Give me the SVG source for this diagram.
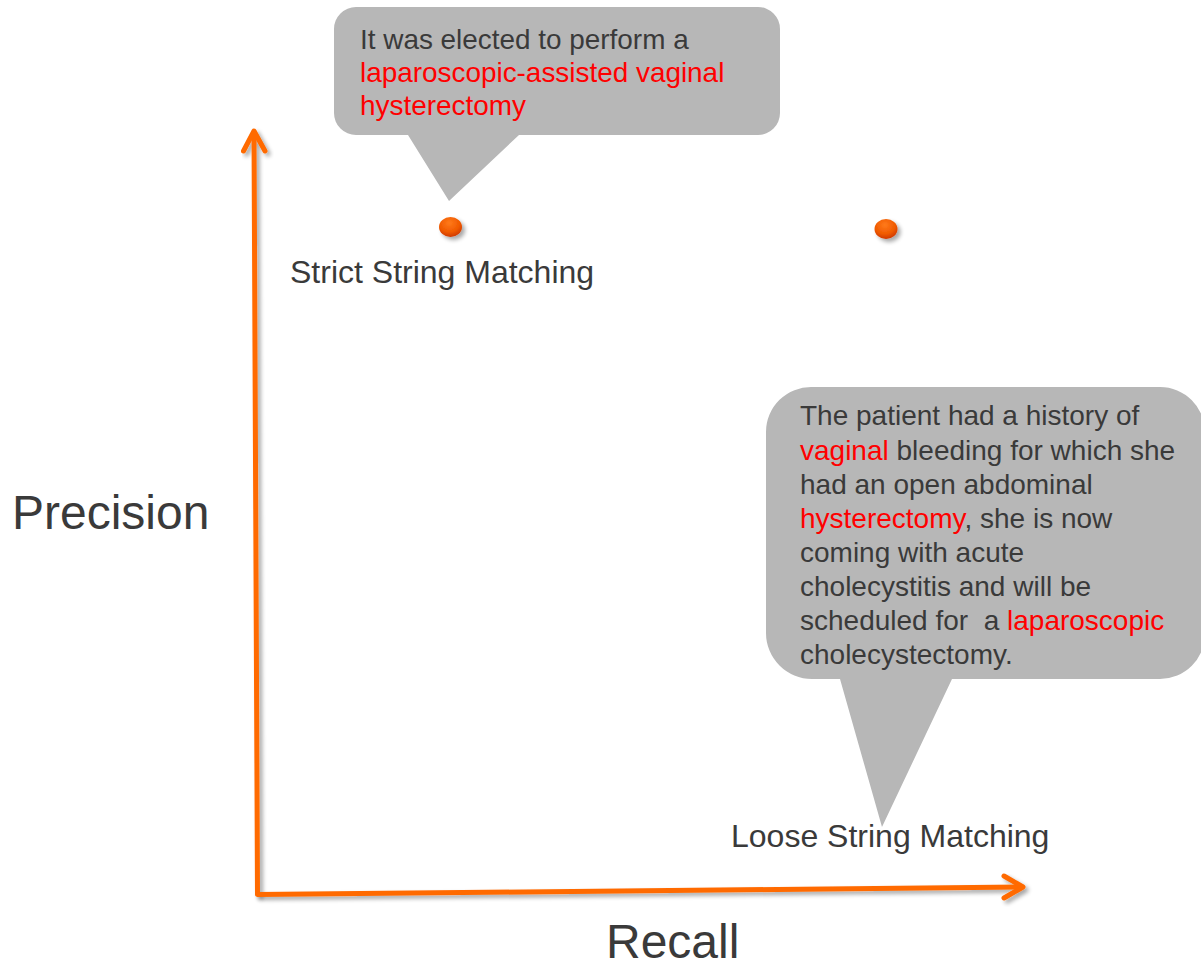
<svg xmlns="http://www.w3.org/2000/svg" width="1201" height="962" viewBox="0 0 1201 962">
<style>
.t{font-family:"Liberation Sans",Arial,sans-serif;fill:#3a3a3a}
.r{fill:#ff0000}
.call{fill:#b7b7b7}
.axis{fill:none;stroke:#ff6a00;stroke-width:5;stroke-linecap:round;stroke-linejoin:round}
</style>
<defs>
<filter id="sh" x="-20%" y="-20%" width="160%" height="160%">
<feGaussianBlur in="SourceAlpha" stdDeviation="2"/>
<feOffset dx="3" dy="3" result="b"/>
<feComponentTransfer><feFuncA type="linear" slope="0.35"/></feComponentTransfer>
<feMerge><feMergeNode/><feMergeNode in="SourceGraphic"/></feMerge>
</filter>
<radialGradient id="dot" cx="0.45" cy="0.3" r="0.75">
<stop offset="0" stop-color="#ff7a1a"/>
<stop offset="0.6" stop-color="#f05a00"/>
<stop offset="1" stop-color="#c83200"/>
</radialGradient>
</defs>
<rect width="1201" height="962" fill="#ffffff"/>
<g id="connectors">
<g id="y-axis" filter="url(#sh)">
<path class="axis" d="M257.5,894 L254,132"/>
<path class="axis" d="M243.5,151 L254,131 L265,151"/>
</g>
<g id="x-axis" filter="url(#sh)">
<path class="axis" d="M257.5,894.5 L1022,887"/>
<path class="axis" d="M1004,876 L1023,887 L1004,898"/>
</g>
</g>
<g id="label-precision"><text class="t" x="12" y="529" font-size="48">Precision</text></g>
<g id="label-recall"><text class="t" x="606" y="958" font-size="48">Recall</text></g>
<g id="callout-strict">
<path class="call" d="M356,7 H758 A22,22 0 0 1 780,29 V113 A22,22 0 0 1 758,135 H519 L449,201 L408,135 H356 A22,22 0 0 1 334,113 V29 A22,22 0 0 1 356,7 Z"/>
<text class="t" font-size="27.9"><tspan x="360" y="49">It was elected to perform a</tspan><tspan class="r" x="360" y="82">laparoscopic-assisted vaginal</tspan><tspan class="r" x="360" y="115">hysterectomy</tspan></text>
</g>
<g id="node-strict">
<ellipse cx="450.5" cy="227" rx="11.5" ry="10" fill="url(#dot)" filter="url(#sh)"/>
<text class="t" x="290" y="283" font-size="32">Strict String Matching</text>
</g>
<g id="node-loose-dot">
<ellipse cx="886" cy="229" rx="11.5" ry="10" fill="url(#dot)" filter="url(#sh)"/>
</g>
<g id="callout-loose">
<path class="call" d="M812,387 H1160 A45,45 0 0 1 1205,432 V634 A45,45 0 0 1 1160,679 H952 L882,827 L840,679 H812 A46,46 0 0 1 766,633 V432 A45,45 0 0 1 812,387 Z"/>
<text class="t" font-size="28"><tspan x="800" y="425">The patient had a history of</tspan><tspan x="800" y="460"><tspan class="r">vaginal</tspan> bleeding for which she</tspan><tspan x="800" y="494">had an open abdominal</tspan><tspan x="800" y="528"><tspan class="r">hysterectomy</tspan>, she is now</tspan><tspan x="800" y="562">coming with acute</tspan><tspan x="800" y="596">cholecystitis and will be</tspan><tspan x="800" y="630">scheduled for&#160; a <tspan class="r">laparoscopic</tspan></tspan><tspan x="800" y="664">cholecystectomy.</tspan></text>
</g>
<g id="node-loose">
<text class="t" x="731" y="847" font-size="32">Loose String Matching</text>
</g>
</svg>
